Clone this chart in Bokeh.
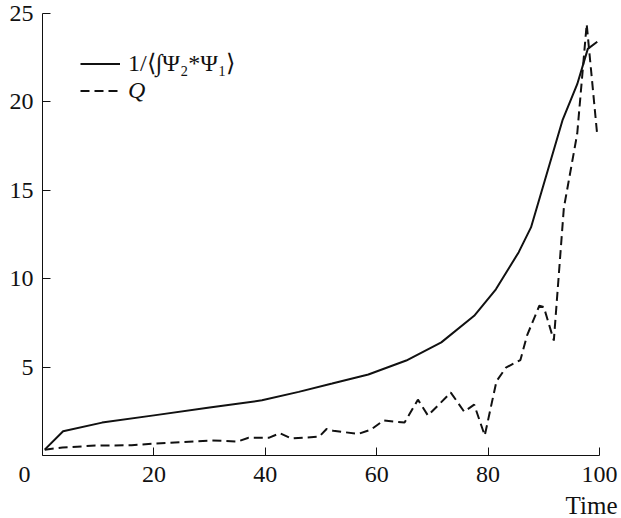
from bokeh.plotting import figure
from bokeh.models import Range1d, FixedTicker, Legend, LegendItem, Title
from bokeh.embed import file_html
from bokeh.resources import INLINE

# --- data ---
t_inv = [0.4, 3.7, 10.7, 20, 30, 39.4, 46, 52, 58.5, 65.3, 71.6, 77.5, 81.4,
         85.5, 87.7, 93.4, 96, 97.9, 99.6]
inv_overlap = [0.33, 1.37, 1.86, 2.27, 2.71, 3.12, 3.6, 4.07, 4.58, 5.37, 6.4,
               7.9, 9.4, 11.5, 12.9, 19.0, 21.0, 23.0, 23.4]

t_q = [0.4, 3.6, 9.5, 16, 20.2, 30.4, 35, 37, 40.6, 42.6, 44.7, 49.7, 51,
       52.2, 56.7, 59, 61.2, 65, 67.4, 69.2, 73.3, 75.7, 77.5, 79.4, 81.5,
       83.2, 85.8, 87.0, 89.2, 90.0, 91.8, 93.6, 96.0, 97.7, 99.6]
q_vals = [0.33, 0.45, 0.56, 0.58, 0.68, 0.85, 0.79, 1.0, 1.0, 1.26, 0.96,
          1.07, 1.5, 1.4, 1.22, 1.47, 1.98, 1.86, 3.16, 2.26, 3.56, 2.48,
          2.88, 1.13, 4.2, 4.97, 5.4, 6.8, 8.47, 8.4, 6.5, 14.0, 18.2, 24.4,
          18.1]

x_ticks = [0, 20, 40, 60, 80, 100]
y_ticks = [5, 10, 15, 20, 25]
label_inv = "1/⟨∫Ψ₂*Ψ₁⟩"
label_q = "Q"
x_title = "Time"

FONT = "Liberation Serif"
INK = "#111111"

p = figure(width=621, height=518, output_backend="svg", toolbar_location=None,
           x_range=Range1d(0, 100), y_range=Range1d(0, 25),
           min_border_left=42, min_border_right=22, min_border_top=13,
           min_border_bottom=10)
p.outline_line_color = None
p.grid.visible = False
p.background_fill_color = "white"
p.border_fill_color = "white"

for ax in (p.xaxis[0], p.yaxis[0]):
    ax.axis_line_color = INK
    ax.axis_line_width = 1
    ax.major_tick_line_color = INK
    ax.major_tick_in = 8
    ax.major_tick_out = 0
    ax.minor_tick_line_color = None
    ax.major_label_text_font = FONT
    ax.major_label_text_font_size = "24px"
    ax.major_label_text_color = INK

p.xaxis[0].ticker = FixedTicker(ticks=x_ticks)
p.yaxis[0].ticker = FixedTicker(ticks=y_ticks)
p.xaxis[0].major_label_standoff = 5
p.yaxis[0].major_label_standoff = 9
# the origin label sits a little left of the corner in the reference
p.xaxis[0].major_label_overrides = {0: "0" + "\u00a0" * 6}

r1 = p.line(t_inv, inv_overlap, line_color=INK, line_width=2)
r2 = p.line(t_q, q_vals, line_color=INK, line_width=2, line_dash="9 5")

common = dict(background_fill_alpha=0, border_line_color=None, padding=0,
              margin=0, spacing=0, glyph_width=40, glyph_height=27,
              label_height=27, label_standoff=8,
              label_text_font=FONT, label_text_font_size="24px",
              label_text_color=INK)
leg1 = Legend(items=[LegendItem(label=label_inv, renderers=[r1])],
              location=(38, 378), **common)
leg2 = Legend(items=[LegendItem(label=label_q, renderers=[r2])],
              location=(38, 351), label_text_font_style="italic", **common)
p.add_layout(leg1)
p.add_layout(leg2)

p.add_layout(Title(text=x_title, align="right", offset=-18,
                   text_font=FONT, text_font_size="25px",
                   text_font_style="normal", text_color=INK,
                   standoff=0), "below")

open("out.html", "w").write(file_html(p, INLINE))
